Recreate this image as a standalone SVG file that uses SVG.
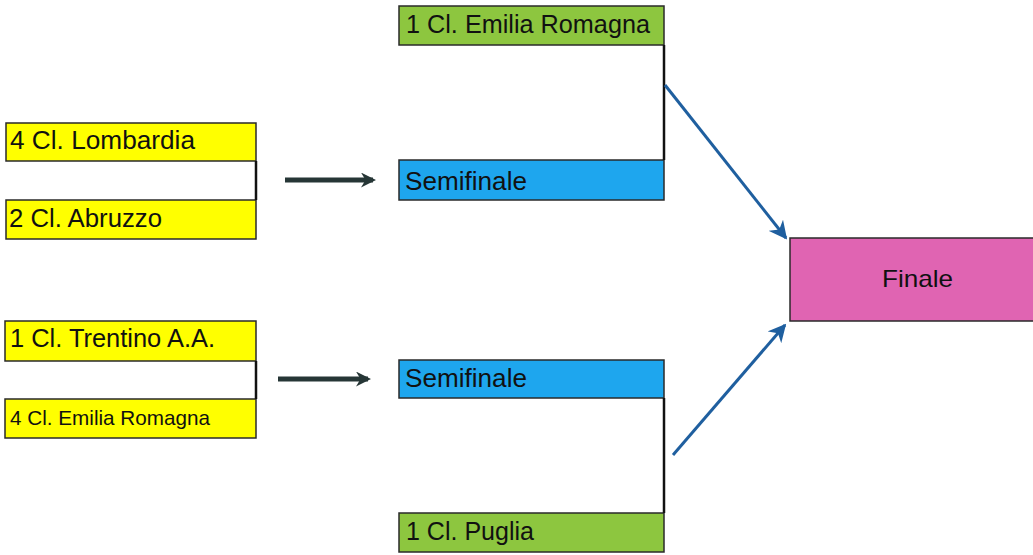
<svg xmlns="http://www.w3.org/2000/svg" width="1033" height="555" viewBox="0 0 1033 555">
<defs>
<style>
.box{stroke:#2a2a2a;stroke-width:1.5}
.y{fill:#ffff00}
.g{fill:#8dc63f}
.b{fill:#1ea6ee}
.p{fill:#e064b2}
.t{font-family:"Liberation Sans",Arial,sans-serif;font-size:25px;fill:#111}
.br{fill:none;stroke:#111;stroke-width:2.5}
.dk{stroke:#263636;stroke-width:5;fill:none}
.bl{stroke:#1f5f9f;stroke-width:3;fill:none}
</style>
<marker id="ahd" viewBox="0 0 10 10" refX="8" refY="5" markerWidth="3" markerHeight="3" orient="auto" markerUnits="strokeWidth">
<path d="M0,0 L10,5 L0,10 L3,5 Z" fill="#263636"/>
</marker>
<marker id="ahb" viewBox="0 0 10 10" refX="9" refY="5" markerWidth="6" markerHeight="6" orient="auto" markerUnits="strokeWidth">
<path d="M0,0 L10,5 L0,10 L3,5 Z" fill="#1f5f9f"/>
</marker>
</defs>
<rect width="1033" height="555" fill="#fff"/>
<g id="lombardia"><rect class="box y" x="6" y="123" width="250" height="38"/><text class="t" x="10" y="149" textLength="185" lengthAdjust="spacingAndGlyphs">4 Cl. Lombardia</text></g>
<g id="abruzzo"><rect class="box y" x="6" y="200" width="250" height="39"/><text class="t" x="9" y="227" textLength="153" lengthAdjust="spacingAndGlyphs">2 Cl. Abruzzo</text></g>
<g id="trentino"><rect class="box y" x="5" y="321" width="251" height="40"/><text class="t" x="10" y="347" textLength="205" lengthAdjust="spacingAndGlyphs">1 Cl. Trentino A.A.</text></g>
<g id="emilia4"><rect class="box y" x="5" y="399" width="251" height="39"/><text class="t" x="10" y="425" font-size="21" style="font-size:21px" textLength="200" lengthAdjust="spacingAndGlyphs">4 Cl. Emilia Romagna</text></g>
<g id="emilia1"><rect class="box g" x="399" y="6" width="265" height="39"/><text class="t" x="406" y="33" textLength="244" lengthAdjust="spacingAndGlyphs">1 Cl. Emilia Romagna</text></g>
<g id="semi1"><rect class="box b" x="399" y="160" width="265" height="40"/><text class="t" x="405" y="190" textLength="122" lengthAdjust="spacingAndGlyphs">Semifinale</text></g>
<g id="semi2"><rect class="box b" x="399" y="360" width="265" height="38"/><text class="t" x="405" y="387" textLength="122" lengthAdjust="spacingAndGlyphs">Semifinale</text></g>
<g id="puglia"><rect class="box g" x="399" y="513" width="265" height="39"/><text class="t" x="406" y="540" textLength="128" lengthAdjust="spacingAndGlyphs">1 Cl. Puglia</text></g>
<g id="finale"><rect class="box p" x="790" y="238" width="245" height="83"/><text class="t" x="882" y="287" style="font-size:24px" textLength="71" lengthAdjust="spacingAndGlyphs">Finale</text></g>
<g id="connectors">
<path class="br" d="M256,161 V200"/>
<path class="br" d="M256,361 V399"/>
<path class="br" d="M664,45 V160"/>
<path class="br" d="M664,398 V513"/>
<path class="dk" d="M285,180 H373" marker-end="url(#ahd)"/>
<path class="dk" d="M278,379 H368" marker-end="url(#ahd)"/>
<path class="bl" d="M665,85 L786,238" marker-end="url(#ahb)"/>
<path class="bl" d="M673,455 L785,325" marker-end="url(#ahb)"/>
</g>
</svg>
